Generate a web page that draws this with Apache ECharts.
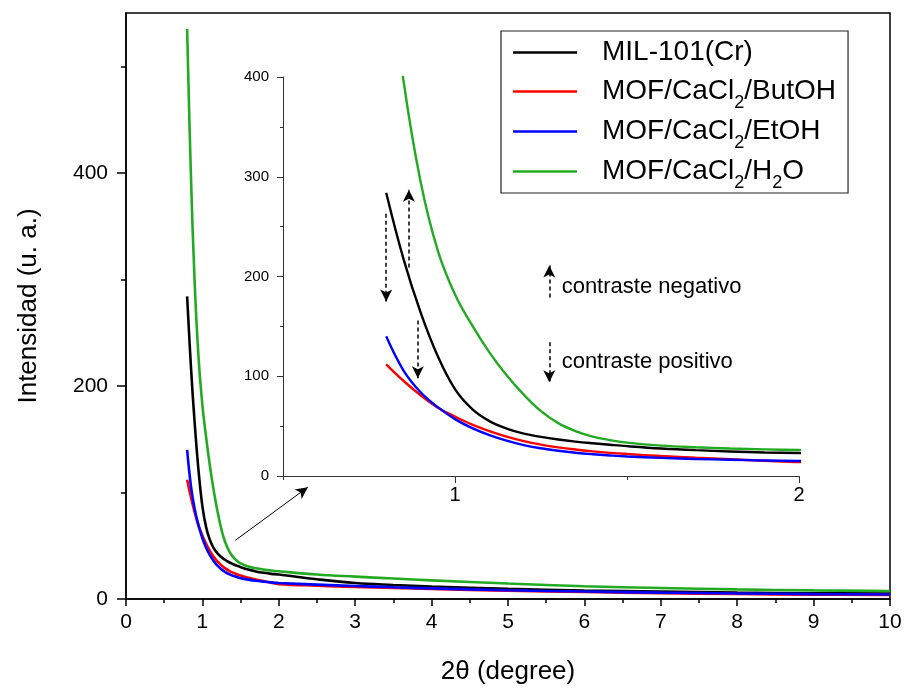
<!DOCTYPE html>
<html>
<head>
<meta charset="utf-8">
<script src="https://cdn.jsdelivr.net/npm/echarts@6/dist/echarts.min.js"></script>
<style>html,body{margin:0;padding:0;background:#fff}#c{width:906px;height:690px}</style>
</head>
<body>
<div id="c"></div>
<script>
// ---- data ----
const twoTheta = [0.8, 0.85, 0.9, 0.95, 1.0, 1.05, 1.1, 1.15, 1.2, 1.25, 1.3, 1.35, 1.4, 1.45, 1.5, 1.6, 1.7, 1.8, 1.9, 2.0, 2.5, 3, 3.5, 4, 5, 6, 7, 8, 9, 10];
const milCr   = [284, 218, 164, 120, 87, 67, 55, 47.5, 42.5, 39.2, 36.6, 34.5, 32.8, 31.3, 29.9, 27.6, 25.9, 24.6, 23.6, 23, 18.5, 15, 13.2, 11.8, 9.6, 8, 6.9, 6, 5.4, 5];
const butOH   = [112, 95.5, 81, 68.5, 59.5, 51.5, 45, 39.5, 35, 31.5, 28.7, 26.5, 24.7, 23.2, 22, 20, 18.3, 16.8, 15.3, 14, 12.5, 11.3, 10.3, 9.4, 7.8, 6.5, 5.5, 4.7, 4.1, 3.7];
const etOH    = [140, 106, 84, 69, 57, 48, 41, 35.5, 31, 27.8, 25.3, 23.3, 21.8, 20.6, 19.6, 18.2, 17.1, 16.3, 15.6, 15, 13.5, 12.2, 11, 10, 8.2, 7, 6, 5.2, 4.6, 4.2];
const h2o     = [535, 397, 295, 226, 182, 151, 124, 101, 81.5, 65, 53, 45, 39.5, 36, 33.5, 30.5, 28.8, 27.6, 26.7, 26, 23, 21, 19.2, 17.5, 14.5, 12, 10.3, 9, 8.1, 7.5];
const seriesNames = ['MIL-101(Cr)', 'MOF/CaCl2/ButOH', 'MOF/CaCl2/EtOH', 'MOF/CaCl2/H2O'];
const seriesColors = ['#000000', '#ff0000', '#0000ff', '#22aa22'];
const mainXTicks = [0, 10, 1];
const mainYLabels = [0, 200, 400];
const mainYMinor = [100, 300, 500];
const insetXLabels = [1, 2];
const annotations = ['contraste negativo', 'contraste positivo'];

const allY = [milCr, butOH, etOH, h2o];
const pairs = ys => twoTheta.map((x, i) => [x, ys[i]]);

const FONT = 'Liberation Sans, Arial, sans-serif';
const chart = echarts.init(document.getElementById('c'), null, {renderer: 'canvas'});

const legendRich = {
  a: {fontSize: 28, fontFamily: FONT, color: '#000', lineHeight: 39, height: 39},
  s: {fontSize: 18, fontFamily: FONT, color: '#000', verticalAlign: 'top', padding: [22, 0, 0, 0], lineHeight: 17}
};
function legendFmt(name) {
  if (name.indexOf('CaCl2') < 0) return '{a|' + name + '}';
  let rest = name.split('CaCl2')[1];
  let out = '{a|MOF/CaCl}{s|2}';
  if (rest.indexOf('H2O') >= 0) out += '{a|/H}{s|2}{a|O}';
  else out += '{a|' + rest + '}';
  return out;
}

const series = [];
allY.forEach((ys, k) => {
  series.push({
    name: seriesNames[k], type: 'line', xAxisIndex: 0, yAxisIndex: 0,
    data: pairs(ys), showSymbol: false, symbol: 'none', smooth: 0.4,
    lineStyle: {color: seriesColors[k], width: 2.6}, itemStyle: {color: seriesColors[k]},
    clip: true, z: 3
  });
});
allY.forEach((ys, k) => {
  series.push({
    name: seriesNames[k], type: 'line', xAxisIndex: 2, yAxisIndex: 2,
    data: pairs(ys), showSymbol: false, symbol: 'none', smooth: 0.4,
    lineStyle: {color: seriesColors[k], width: 2.4}, itemStyle: {color: seriesColors[k]},
    clip: true, z: 4
  });
});
// main-chart pointer arrow
series[0].markLine = {
  silent: true, symbol: ['none', 'arrow'], symbolSize: [9, 12],
  label: {show: false}, lineStyle: {color: '#000', width: 1, type: 'solid'},
  data: [[{coord: [1.43, 55]}, {coord: [2.38, 105]}]]
};
// inset dashed arrows and annotation texts
series[4].markLine = {
  silent: true, symbol: ['none', 'arrow'], symbolSize: [9, 12],
  label: {show: false}, lineStyle: {color: '#000', width: 1.5, type: [4, 3]},
  data: [
    [{coord: [0.80, 263]}, {coord: [0.80, 175]}],
    [{coord: [0.866, 209]}, {coord: [0.866, 287]}],
    [{coord: [0.892, 156]}, {coord: [0.892, 98]}],
    [{coord: [1.274, 179]}, {coord: [1.274, 211]}],
    [{coord: [1.274, 134]}, {coord: [1.274, 94]}]
  ]
};
series[4].markPoint = {
  silent: true, symbol: 'circle', symbolSize: 0,
  label: {show: true, position: 'right', distance: 0, color: '#000', fontSize: 22, fontFamily: FONT},
  data: [
    {coord: [1.31, 190], label: {formatter: annotations[0]}},
    {coord: [1.31, 114], label: {formatter: annotations[1]}}
  ]
};

const option = {
  animation: false,
  backgroundColor: '#fff',
  textStyle: {fontFamily: FONT},
  grid: [
    {left: 126, right: 16, top: 13, bottom: 88, show: true, borderColor: '#000', borderWidth: 1.5, backgroundColor: 'transparent'},
    {left: 283, right: 107, top: 77, bottom: 214, show: false}
  ],
  legend: {
    orient: 'vertical', left: 501, top: 31,
    data: seriesNames.map(n => ({name: n, icon: 'rect'})),
    formatter: legendFmt,
    itemWidth: 64, itemHeight: 2.6, itemGap: 0,
    padding: [2, 12, 1, 12],
    borderColor: '#222', borderWidth: 1.2,
    backgroundColor: '#fff',
    textStyle: {rich: legendRich, padding: [0, 0, 0, 20]},
    selectedMode: false
  },
  xAxis: [
    {gridIndex: 0, type: 'value', min: mainXTicks[0], max: mainXTicks[1], interval: mainXTicks[2],
     name: '2θ (degree)', nameLocation: 'middle', nameGap: 60,
     nameTextStyle: {fontSize: 26, color: '#000', fontFamily: FONT},
     axisLine: {lineStyle: {color: '#000', width: 1.5}},
     axisTick: {inside: false, length: 7, lineStyle: {color: '#000', width: 1.5}},
     minorTick: {show: true, splitNumber: 2, length: 4, lineStyle: {color: '#000', width: 1.5}},
     axisLabel: {fontSize: 21, color: '#000', margin: 13, fontFamily: FONT},
     splitLine: {show: false}},
    {gridIndex: 0, type: 'value', min: mainXTicks[0], max: mainXTicks[1], position: 'top',
     axisLine: {show: false}, axisTick: {show: false}, axisLabel: {show: false}, splitLine: {show: false}},
    {gridIndex: 1, type: 'value', min: 0.5, max: 2, interval: 0.5,
     axisLine: {lineStyle: {color: '#333', width: 1}},
     axisTick: {inside: false, length: 4, lineStyle: {color: '#333', width: 1}},
     axisLabel: {customValues: insetXLabels, fontSize: 20, color: '#000', margin: 9, fontFamily: FONT},
     splitLine: {show: false}},
    {gridIndex: 1, type: 'value', min: 0.5, max: 2, position: 'bottom',
     axisLine: {show: false},
     axisTick: {show: true, inside: false, customValues: insetXLabels, length: 7, lineStyle: {color: '#333', width: 1}},
     axisLabel: {show: false}, splitLine: {show: false}}
  ],
  yAxis: [
    {gridIndex: 0, type: 'value', min: 0, max: 550,
     name: 'Intensidad (u. a.)', nameLocation: 'middle', nameGap: 84,
     nameTextStyle: {fontSize: 26, color: '#000', fontFamily: FONT},
     axisLine: {lineStyle: {color: '#000', width: 1.5}},
     axisTick: {inside: false, customValues: mainYLabels, length: 9, lineStyle: {color: '#000', width: 1.5}},
     axisLabel: {customValues: mainYLabels, fontSize: 21, color: '#000', margin: 18, fontFamily: FONT},
     splitLine: {show: false}},
    {gridIndex: 0, type: 'value', min: 0, max: 550, position: 'left',
     axisLine: {show: false},
     axisTick: {show: true, inside: false, customValues: mainYMinor, length: 5, lineStyle: {color: '#000', width: 1.5}},
     axisLabel: {show: false}, splitLine: {show: false}},
    {gridIndex: 1, type: 'value', min: 0, max: 400, interval: 100,
     axisLine: {lineStyle: {color: '#333', width: 1}},
     axisTick: {inside: false, length: 6, lineStyle: {color: '#333', width: 1}},
     minorTick: {show: true, splitNumber: 2, length: 3, lineStyle: {color: '#333', width: 1}},
     axisLabel: {fontSize: 15, color: '#000', margin: 14, fontFamily: FONT},
     splitLine: {show: false}}
  ],
  series: series
};
chart.setOption(option);
</script>
</body>
</html>
